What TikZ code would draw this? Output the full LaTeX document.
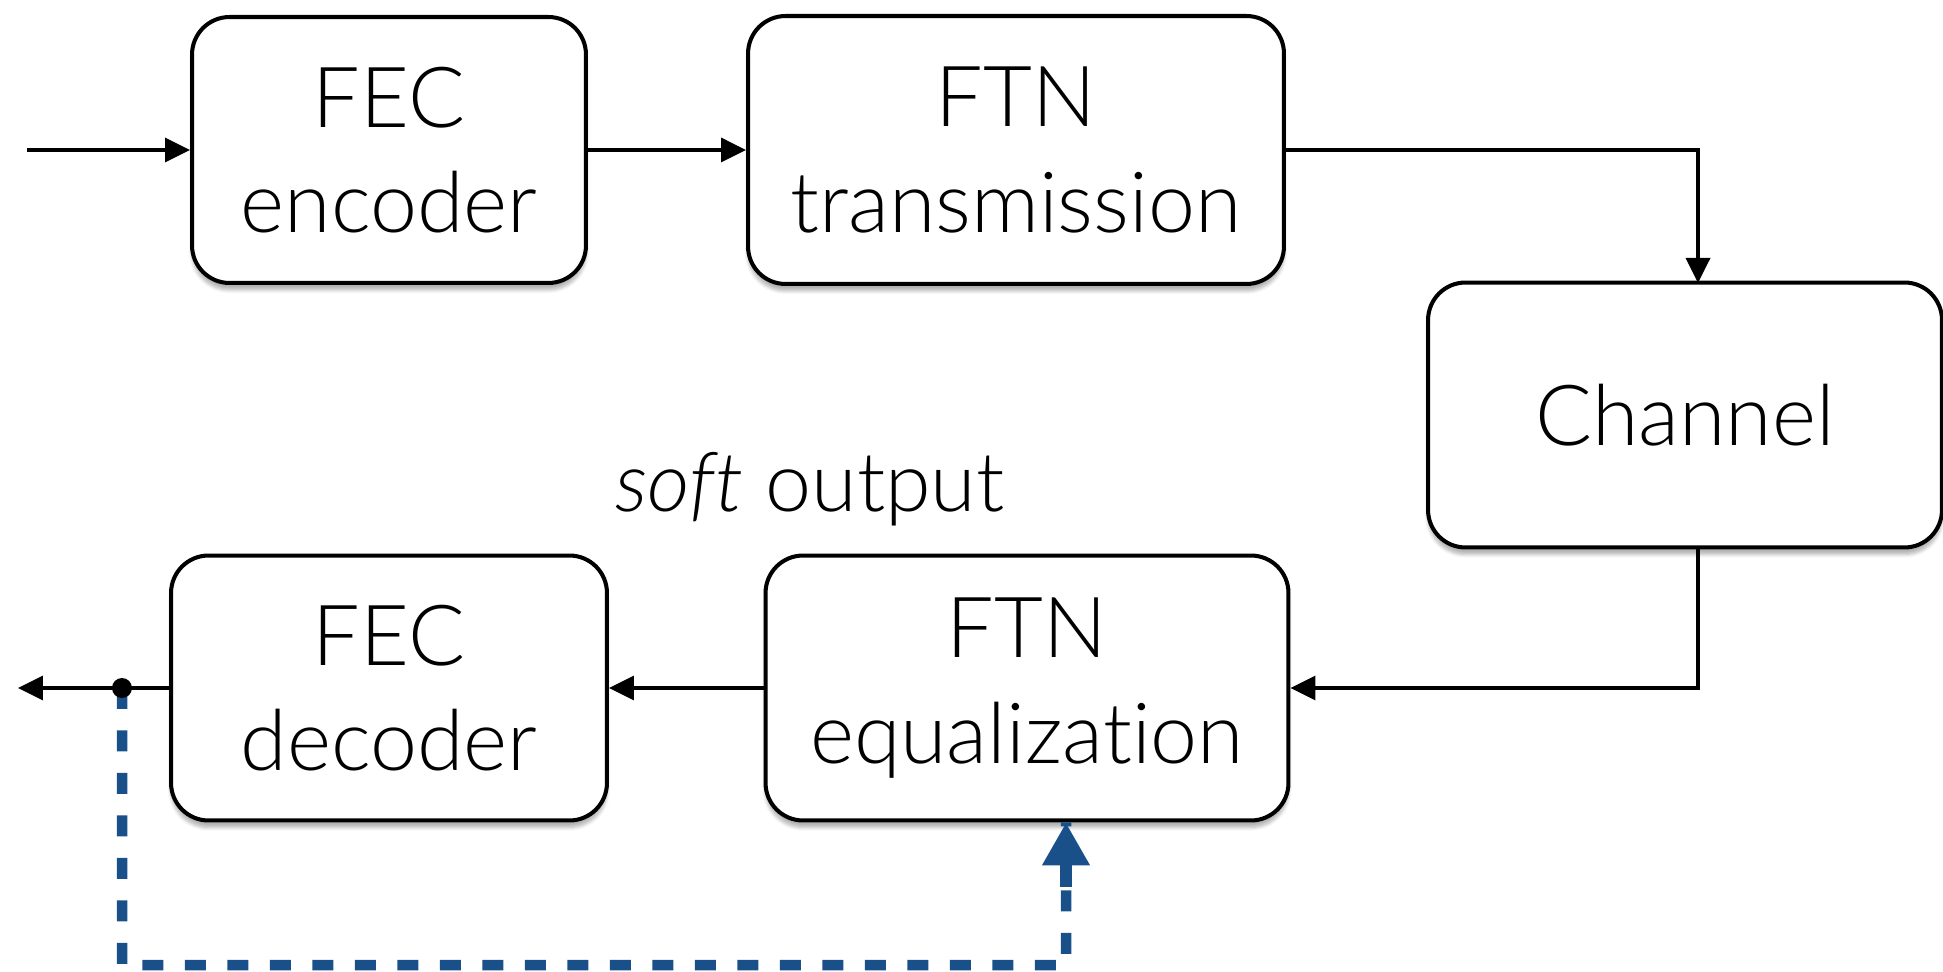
\documentclass[tikz,border=0pt]{standalone}
\usepackage{fontspec}
\setmainfont{Lato Light}[Ligatures=NoCommon]
\usetikzlibrary{arrows.meta,shadows.blur}
\definecolor{fbblue}{RGB}{25,80,138}
\begin{document}
\begin{tikzpicture}[x=0.02cm,y=-0.02cm,
  blockbox/.style={draw=black, line width=2.3pt, rounded corners=0.75cm, fill=white,
    align=center, font=\fontsize{48}{60}\selectfont, inner sep=0pt,
    blur shadow={shadow xshift=0pt, shadow yshift=-0.14cm, shadow blur steps=6, shadow opacity=30}},
  conn/.style={line width=2pt, -{Triangle[length=0.5cm,width=0.48cm]}},
  fb/.style={draw=fbblue, line width=0.21cm, dash pattern=on 0.42cm off 0.43cm},
  lbl/.style={font=\fontsize{47}{60}\selectfont, inner sep=0pt}]
\useasboundingbox (0,0) rectangle (1943,972);

\node[blockbox, minimum width=7.88cm, minimum height=5.32cm] (enc) at (389,150) {FEC\\encoder};
\node[blockbox, minimum width=10.72cm, minimum height=5.36cm] (tx) at (1016,150) {FTN\\transmission};
\node[blockbox, minimum width=10.28cm, minimum height=5.3cm] (ch) at (1685,415) {Channel};
\node[blockbox, minimum width=8.72cm, minimum height=5.3cm] (dec) at (389,688) {FEC\\decoder};
\node[blockbox, minimum width=10.46cm, minimum height=5.3cm] (eq) at (1027,688) {FTN\\equalization};

\node[lbl, anchor=base] (soft) at (810,512) {\textit{soft} output};

\coordinate (in) at (27,150);
\coordinate (out) at (18,688);
\coordinate (dot) at (122,688);
\coordinate (fbc1) at (122,965);
\coordinate (fbc2) at (1066,965);
\coordinate (chin) at (1698,283);
\coordinate (chout) at (1698,548);

\draw[conn] (in) -- (enc.west);
\draw[conn] (enc.east) -- (tx.west);
\draw[conn] (tx.east) -| (chin);
\draw[conn] (chout) |- (eq.east);
\draw[conn] (eq.west) -- (dec.east);
\draw[conn] (dec.west) -- (out);

\draw[fb] (dot) -- (fbc1) -- (fbc2) -- ([xshift=0.78cm]eq.south);
\draw[fbblue, line width=0.23cm, -{Triangle[length=0.86cm,width=0.9cm]}]
  ([yshift=-1.3cm, xshift=0.78cm]eq.south) -- ([xshift=0.78cm]eq.south);
\fill (dot) circle (0.2cm);
\end{tikzpicture}
\end{document}
